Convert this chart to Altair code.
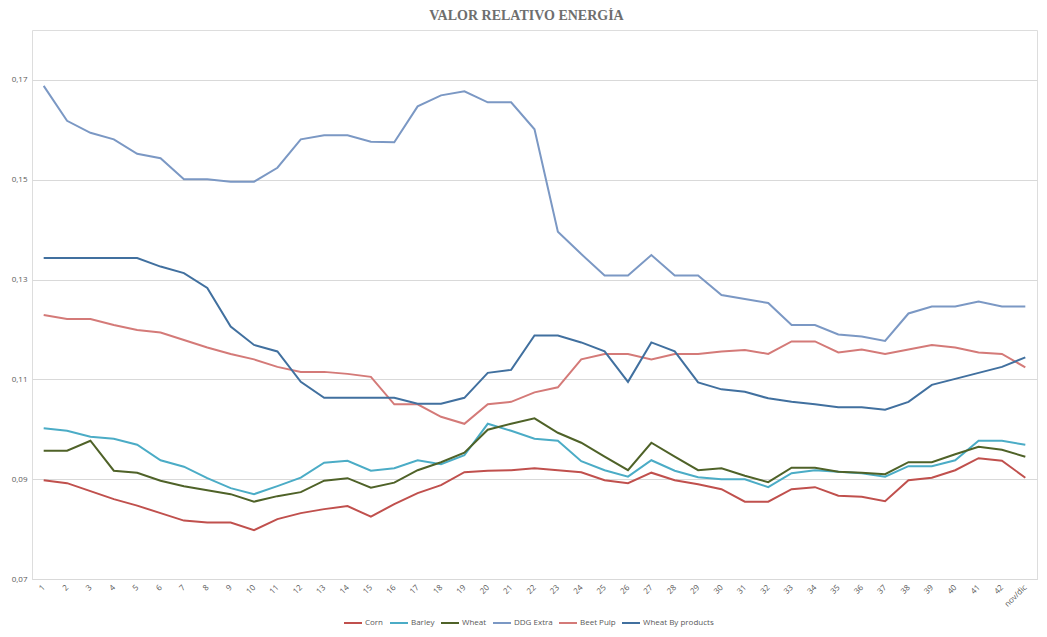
import altair as alt
import pandas as pd

categories = [str(i) for i in range(1, 43)] + ["nov/dic"]

corn = [0.0898, 0.0892, 0.0876, 0.0860, 0.0847, 0.0832, 0.0817, 0.0813, 0.0813, 0.0798,
        0.0820, 0.0832, 0.0840, 0.0846, 0.0825, 0.0850, 0.0872, 0.0888, 0.0914, 0.0917,
        0.0918, 0.0922, 0.0918, 0.0914, 0.0898, 0.0892, 0.0913, 0.0898, 0.0890, 0.0880,
        0.0855, 0.0855, 0.0880, 0.0884, 0.0867, 0.0865, 0.0856, 0.0898, 0.0903, 0.0918,
        0.0942, 0.0937, 0.0903]
barley = [0.1002, 0.0997, 0.0985, 0.0981, 0.0969, 0.0938, 0.0925, 0.0902, 0.0882, 0.0870,
          0.0886, 0.0903, 0.0933, 0.0937, 0.0917, 0.0922, 0.0938, 0.0930, 0.0948, 0.1011,
          0.0997, 0.0981, 0.0977, 0.0936, 0.0918, 0.0905, 0.0938, 0.0917, 0.0904, 0.0900,
          0.0900, 0.0884, 0.0912, 0.0918, 0.0915, 0.0912, 0.0905, 0.0926, 0.0926, 0.0938,
          0.0977, 0.0977, 0.0969]
wheat = [0.0957, 0.0957, 0.0977, 0.0917, 0.0913, 0.0897, 0.0886, 0.0878, 0.0870, 0.0855,
         0.0866, 0.0874, 0.0897, 0.0902, 0.0883, 0.0893, 0.0918, 0.0934, 0.0953, 0.0999,
         0.1011, 0.1022, 0.0993, 0.0973, 0.0945, 0.0918, 0.0973, 0.0945, 0.0918, 0.0922,
         0.0907, 0.0894, 0.0923, 0.0923, 0.0915, 0.0913, 0.0910, 0.0934, 0.0934, 0.0950,
         0.0965, 0.0959, 0.0945]
ddg_extra = [0.1688, 0.1618, 0.1594, 0.1581, 0.1552, 0.1543, 0.1501, 0.1501, 0.1496, 0.1496,
             0.1524, 0.1581, 0.1589, 0.1589, 0.1576, 0.1575, 0.1647, 0.1669, 0.1677, 0.1655,
             0.1655, 0.1601, 0.1396, 0.1351, 0.1308, 0.1308, 0.1349, 0.1308, 0.1308, 0.1269,
             0.1261, 0.1253, 0.1209, 0.1209, 0.1190, 0.1186, 0.1177, 0.1232, 0.1246, 0.1246,
             0.1256, 0.1246, 0.1246]
beet_pulp = [0.1229, 0.1221, 0.1221, 0.1209, 0.1199, 0.1194, 0.1179, 0.1164, 0.1151, 0.1140,
             0.1125, 0.1115, 0.1115, 0.1111, 0.1105, 0.1050, 0.1050, 0.1025, 0.1011, 0.1050,
             0.1055, 0.1074, 0.1084, 0.1140, 0.1151, 0.1151, 0.1140, 0.1151, 0.1151, 0.1156,
             0.1159, 0.1151, 0.1176, 0.1176, 0.1154, 0.1160, 0.1151, 0.1160, 0.1169, 0.1164,
             0.1154, 0.1151, 0.1124]
wheat_by_products = [0.1343, 0.1343, 0.1343, 0.1343, 0.1343, 0.1326, 0.1313, 0.1283, 0.1206, 0.1169,
                     0.1156, 0.1095, 0.1063, 0.1063, 0.1063, 0.1063, 0.1051, 0.1051, 0.1063, 0.1113,
                     0.1119, 0.1188, 0.1188, 0.1174, 0.1156, 0.1095, 0.1174, 0.1156, 0.1094, 0.1080,
                     0.1075, 0.1062, 0.1055, 0.1050, 0.1044, 0.1044, 0.1039, 0.1055, 0.1089, 0.1101,
                     0.1113, 0.1125, 0.1144]

series_names = ["Corn", "Barley", "Wheat", "DDG Extra", "Beet Pulp", "Wheat By products"]
series_values = [corn, barley, wheat, ddg_extra, beet_pulp, wheat_by_products]
series_colors = ["#c0504d", "#4bacc6", "#4f6228", "#7b98c4", "#d47a78", "#41709f"]
y_ticks = [0.07, 0.09, 0.11, 0.13, 0.15, 0.17]

rows = []
for name, vals in zip(series_names, series_values):
    for c, v in zip(categories, vals):
        rows.append({"semana": c, "valor": v, "serie": name})
df = pd.DataFrame(rows)

label_color = "#595959"
font = "Open Sans"

chart = alt.Chart(df).mark_line(strokeWidth=2).encode(
    x=alt.X("semana:N", sort=categories,
            scale=alt.Scale(type="point", padding=0.5),
            axis=alt.Axis(title=None, labelAngle=-45, labelAlign="right", labelBaseline="middle",
                          labelFontSize=8, labelColor=label_color, labelFont=font,
                          ticks=False, domainColor="#d9d9d9", labelPadding=7, grid=False)),
    y=alt.Y("valor:Q", scale=alt.Scale(domain=[0.07, 0.18], nice=False, zero=False),
            axis=alt.Axis(title=None, values=y_ticks, format=".2f",
                          labelExpr="replace(datum.label, '.', ',')",
                          labelFontSize=8, labelColor=label_color, labelFont=font,
                          ticks=False, domain=False, gridColor="#d9d9d9", labelPadding=5)),
    color=alt.Color("serie:N", sort=series_names,
                    scale=alt.Scale(domain=series_names, range=series_colors),
                    legend=alt.Legend(title=None, orient="none", direction="horizontal",
                                      legendX=311, legendY=583, columns=6,
                                      symbolType="stroke", symbolSize=324, symbolStrokeWidth=2,
                                      labelFontSize=8, labelColor=label_color, labelFont=font,
                                      columnPadding=2, labelOffset=2)),
).properties(
    width=1005, height=549,
    title=alt.TitleParams("VALOR RELATIVO ENERGÍA", font="Liberation Serif", fontSize=14,
                          fontWeight="bold", color="#6e6e6e", anchor="middle", offset=7, dx=-8),
    padding={"left": 24, "top": 22, "right": 2, "bottom": 50},
    autosize=alt.AutoSizeParams(type="none"),
).configure_view(
    fill="#efefef", stroke=None
).configure(background="white")

chart.save("out.html", embed_options={"renderer": "svg", "actions": False})
